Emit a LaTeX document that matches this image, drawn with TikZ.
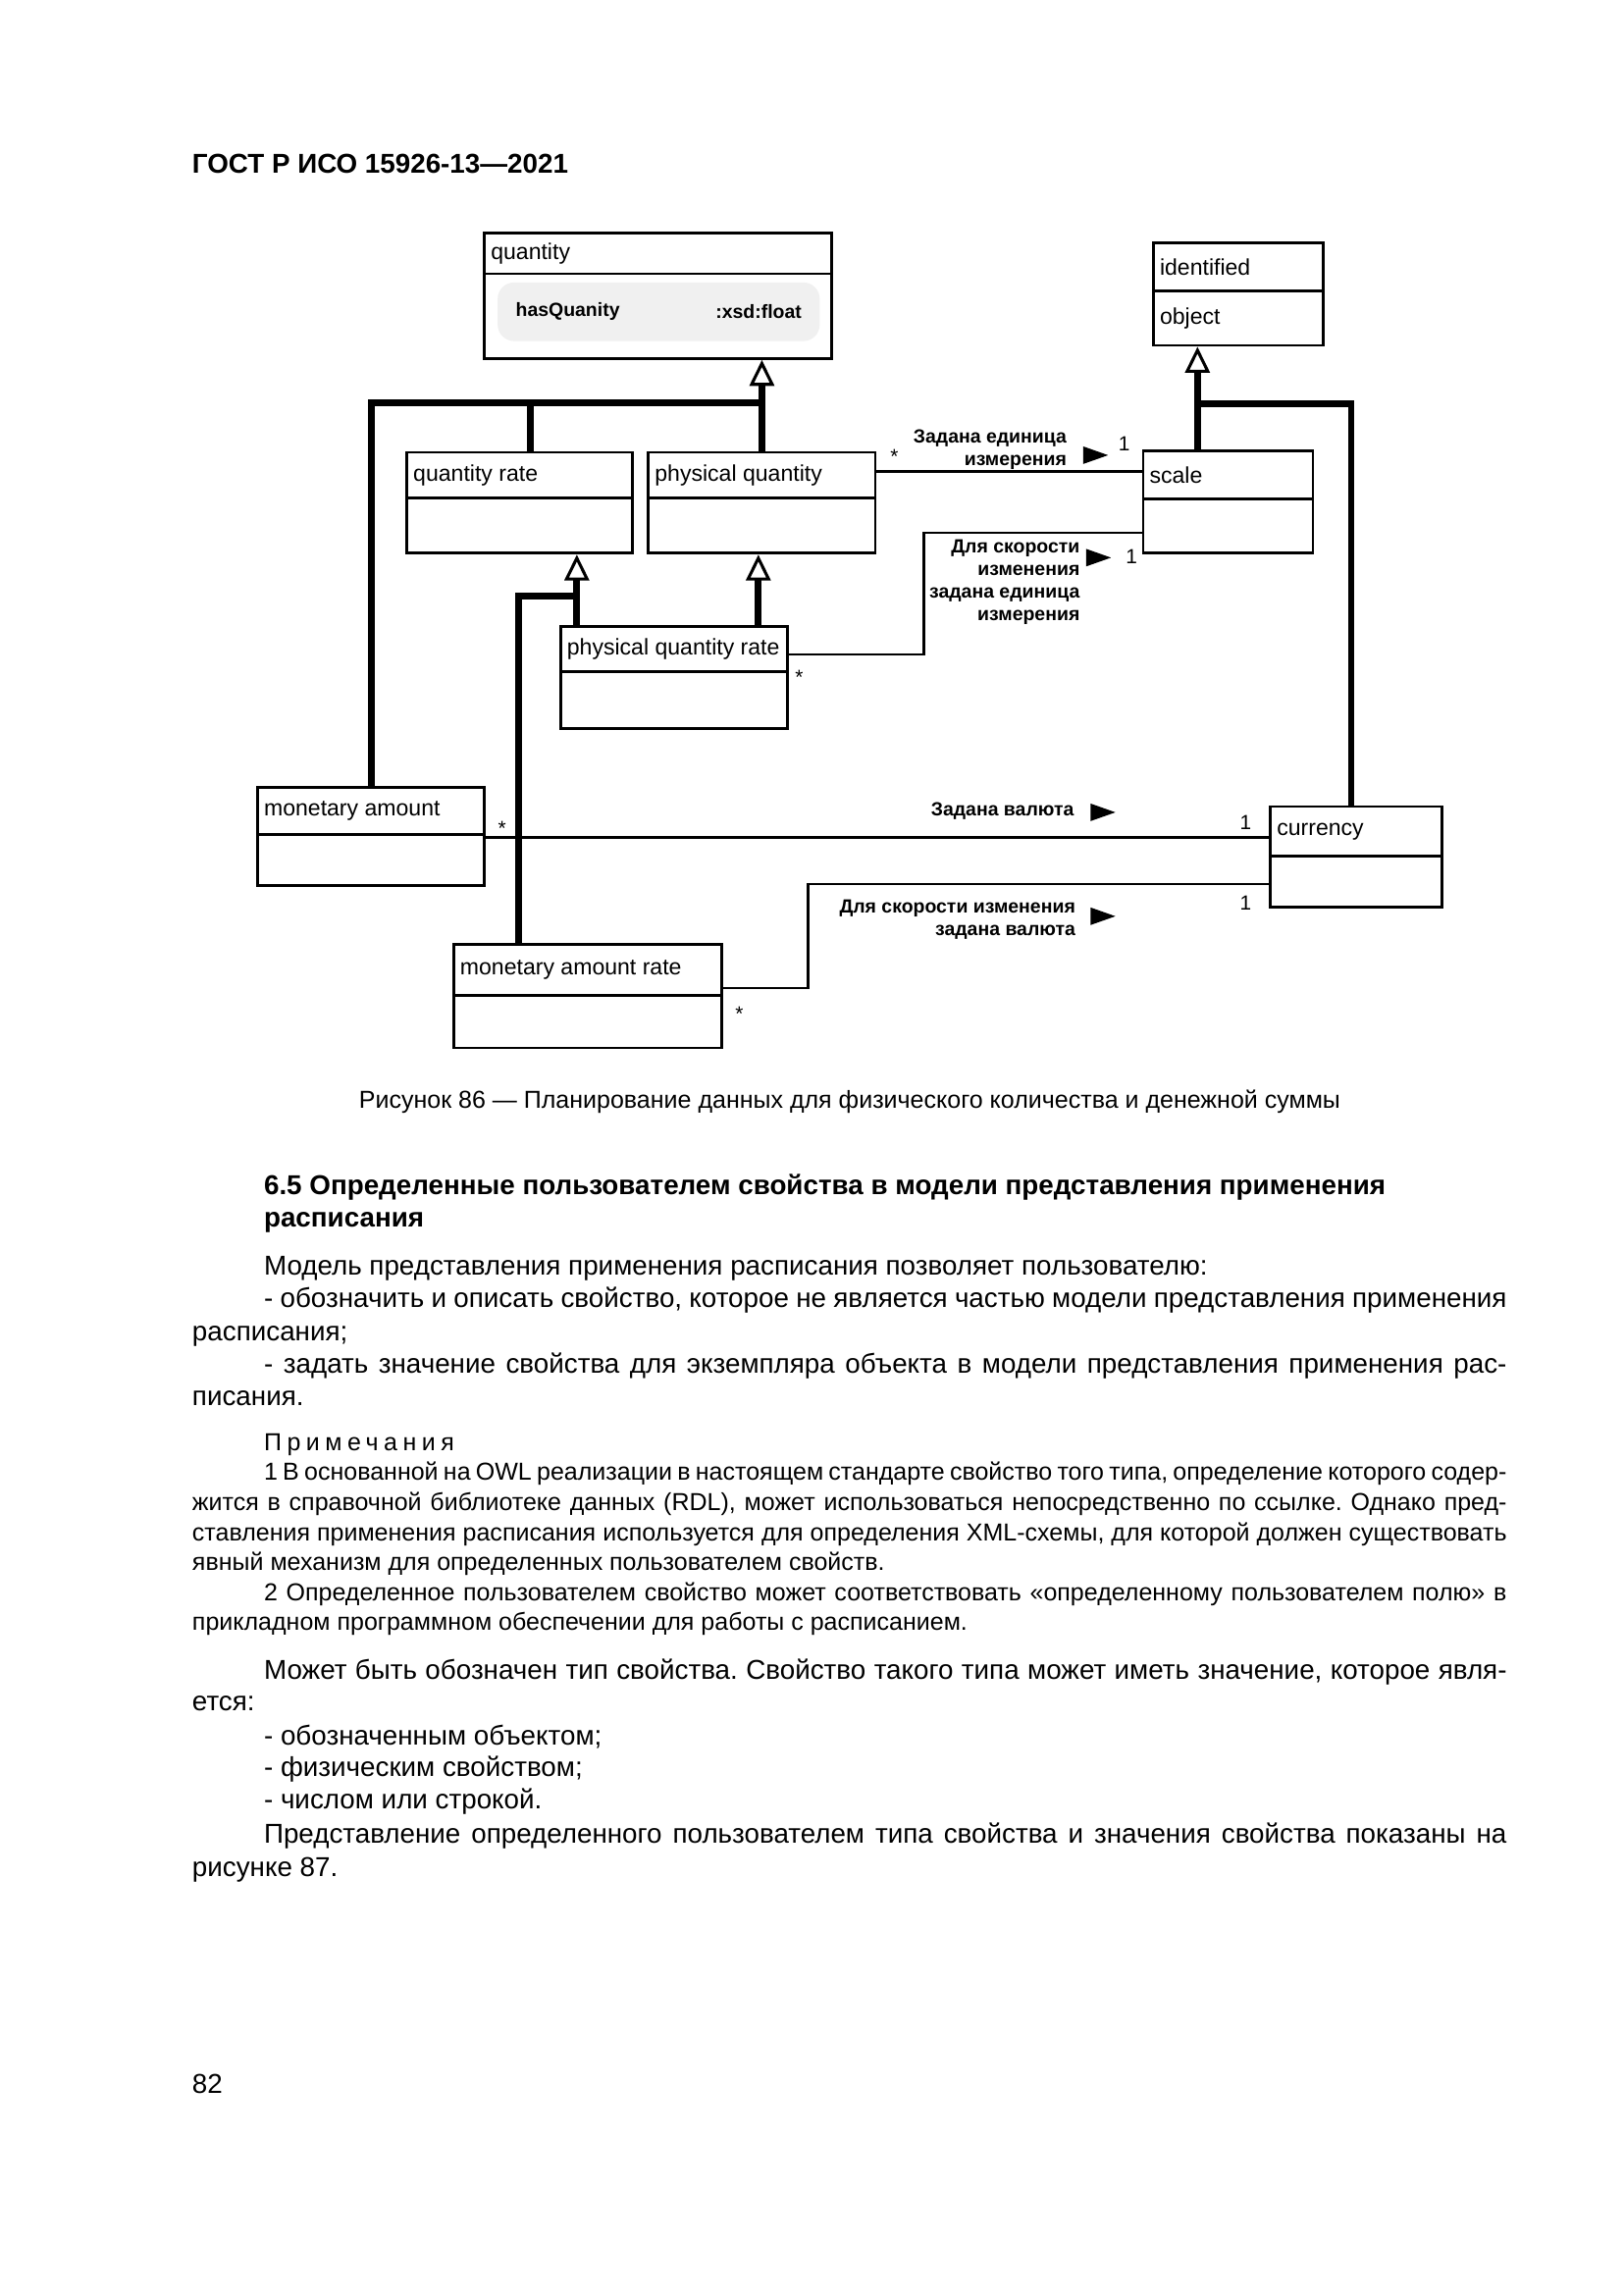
\documentclass[tikz,border=0pt]{standalone}
\usepackage{fontspec}
\setmainfont{Liberation Sans}
\usetikzlibrary{arrows.meta,fit,calc}
\newdimen\unitpx \unitpx=0.5368pt
\newcommand{\umlclass}[7]{%
  \node[umlframe, fit={(#2,#3) (#4,#5)}] (#1) {};
  \draw[divider] (#2,#6) -- (#4,#6);
  \node[classname, anchor=west] (#1-name) at ({#2+4},{(#3+#6)/2}) {#7};
}
\newcommand{\txt}[4]{\node[bodytext, anchor=base west] (#1) at (#2,#3) {#4};}
\newcommand{\jtxt}[5]{\node[bodytext, anchor=base west] (#1) at (#2,#3) {\makebox[#4\unitpx][s]{#5}};}
\newcommand{\ntxt}[4]{\node[notetext, anchor=base west] (#1) at (#2,#3) {#4};}
\newcommand{\njtxt}[5]{\node[notetext, anchor=base west] (#1) at (#2,#3) {\makebox[#4\unitpx][s]{#5}};}
\frenchspacing
\begin{document}
\begin{tikzpicture}[x=0.5368pt,y=-0.5368pt,
  umlframe/.style={draw, line width=1pt, inner sep=0pt, rectangle},
  divider/.style={line width=1pt},
  classname/.style={font=\fontsize{8.3}{10}\selectfont, inner sep=0pt},
  assoc/.style={line width=1pt},
  genline/.style={line width=2.5pt},
  gen/.style={line width=2.5pt, -{Triangle[fill=white, length=9.5pt, width=9pt, line width=1.1pt]}},
  rolelabel/.style={font=\bfseries\fontsize{7}{8.3}\selectfont, align=right, inner sep=0pt},
  mult/.style={font=\fontsize{7.5}{8}\selectfont, inner sep=0pt},
  attr/.style={font=\bfseries\fontsize{7}{8}\selectfont, inner sep=0pt},
  dirtri/.style={fill=black},
  bodytext/.style={font=\fontsize{10}{12}\selectfont, inner sep=0pt},
  notetext/.style={font=\fontsize{9}{11}\selectfont, inner sep=0pt}
]
\fill[white] (0,0) rectangle (1109,1568);
\useasboundingbox (0,0) rectangle (1109,1568);

% header
\node[font=\bfseries\fontsize{10}{12}\selectfont, anchor=base west, inner sep=0pt] (hdr) at (131,118) {ГОСТ Р ИСО 15926-13—2021};

% classes
\umlclass{quantity}{331}{159}{568}{245}{187}{quantity}
\node[fill=black!6, rounded corners=6pt, inner sep=0pt, fit={(340,193) (560,233)}] (qattr) {};
\node[attr, anchor=west] (qattr-n) at (352,213) {hasQuanity};
\node[attr, anchor=east] (qattr-t) at (548,213) {:xsd:float};

\umlclass{idobj}{788}{166}{904}{236}{199}{identified}
\node[classname, anchor=west] (idobj-obj) at (792,217.5) {object};

\umlclass{qr}{278}{309}{432}{378}{340}{quantity rate}
\umlclass{pq}{443}{309}{598}{378}{340}{physical quantity}
\umlclass{scale}{781}{308}{897}{378}{341}{scale}
\umlclass{pqr}{383}{428}{538}{498}{459}{physical quantity rate}
\umlclass{ma}{176}{538}{331}{605}{570}{monetary amount}
\umlclass{currency}{868}{551}{985}{620}{585}{currency}
\umlclass{mar}{310}{645}{493}{716}{680}{monetary amount rate}

% generalizations
\coordinate (qjoin) at (520.5,275);
\draw[gen] (pq.north) -- (pq.north |- quantity.south);
\draw[genline] ($(qr.north west)+(85,0)$) -- ($(qr.north west)+(85,-34)$);
\draw[genline] (ma.north) |- (qjoin);

\coordinate (pqrjoin) at (395,407);
\draw[gen] ($(pqr.north west)+(12,0)$) -- ($(qr.south west)+(117,0)$);
\draw[gen] ($(pqr.north west)+(136,0)$) -- ($(pq.south west)+(76,0)$);
\draw[genline] ($(mar.north west)+(45,0)$) |- (pqrjoin);

\coordinate (sjoin) at (819,276);
\draw[gen] ($(scale.north west)+(38,0)$) -- ($(idobj.south west)+(31,0)$);
\draw[genline] ($(currency.north west)+(56,0)$) |- (sjoin);

% associations
\draw[assoc] ($(pq.north east)+(0,14)$) -- ($(scale.north west)+(0,15)$);
\draw[assoc] ($(pqr.north east)+(0,20)$) -- ++(92,0) |- ($(scale.north west)+(0,57)$);
\draw[assoc] ($(ma.north east)+(0,35)$) -- ($(currency.north west)+(0,22)$);
\draw[assoc] ($(mar.north east)+(0,31)$) -- ++(58,0) |- ($(currency.north west)+(0,54)$);

% role labels
\node[rolelabel, anchor=east] (l1) at (729,307) {Задана единица\\измерения};
\node[rolelabel, anchor=east] (l2) at (738,397.5) {Для скорости\\изменения\\задана единица\\измерения};
\node[rolelabel, anchor=east] (l3) at (734,554) {Задана валюта};
\node[rolelabel, anchor=east] (l4) at (735,628.5) {Для скорости изменения\\задана валюта};

\fill[dirtri] (740,305) -- (757,311) -- (740,317) -- cycle;
\fill[dirtri] (742,375) -- (759,381) -- (742,387) -- cycle;
\fill[dirtri] (745,549) -- (762,555) -- (745,561) -- cycle;
\fill[dirtri] (745,620) -- (762,626) -- (745,632) -- cycle;

% multiplicities
\node[mult] (m1) at (611,312) {*};
\node[mult] (m2) at (768,303) {1};
\node[mult] (m3) at (773,380) {1};
\node[mult] (m4) at (546,463) {*};
\node[mult] (m5) at (343,566) {*};
\node[mult] (m6) at (851,562) {1};
\node[mult] (m7) at (851,617) {1};
\node[mult] (m8) at (505,693) {*};

% caption
\node[font=\fontsize{9}{11}\selectfont, anchor=base, inner sep=0pt] (cap) at (580.5,757) {Рисунок 86 — Планирование данных для физического количества и денежной суммы};

% section heading
\node[font=\bfseries\fontsize{10}{12}\selectfont, anchor=base west, inner sep=0pt] (h1) at (180,816) {6.5 Определенные пользователем свойства в модели представления применения};
\node[font=\bfseries\fontsize{10}{12}\selectfont, anchor=base west, inner sep=0pt] (h2) at (180,838) {расписания};

% body
\txt{b1}{180}{871}{Модель представления применения расписания позволяет пользователю:}
\jtxt{b2}{180}{893}{849}{- обозначить и описать свойство, которое не является частью модели представления применения}
\txt{b3}{131}{916}{расписания;}
\jtxt{b4}{180}{938}{849}{- задать значение свойства для экземпляра объекта в модели представления применения рас-}
\txt{b5}{131}{960}{писания.}

\ntxt{n0}{180}{991}{{\addfontfeature{LetterSpace=22}Примечания}}
\njtxt{n1}{180}{1011}{849}{1 В основанной на OWL реализации в настоящем стандарте свойство того типа, определение которого содер-}
\njtxt{n2}{131}{1032}{898}{жится в справочной библиотеке данных (RDL), может использоваться непосредственно по ссылке. Однако пред-}
\njtxt{n3}{131}{1053}{898}{ставления применения расписания используется для определения XML-схемы, для которой должен существовать}
\ntxt{n4}{131}{1073}{явный механизм для определенных пользователем свойств.}
\njtxt{n5}{180}{1094}{849}{2 Определенное пользователем свойство может соответствовать «определенному пользователем полю» в}
\ntxt{n6}{131}{1114}{прикладном программном обеспечении для работы с расписанием.}

\jtxt{b6}{180}{1147}{849}{Может быть обозначен тип свойства. Свойство такого типа может иметь значение, которое явля-}
\txt{b7}{131}{1169}{ется:}
\txt{b8}{180}{1192}{- обозначенным объектом;}
\txt{b9}{180}{1214}{- физическим свойством;}
\txt{b10}{180}{1236}{- числом или строкой.}
\jtxt{b11}{180}{1259}{849}{Представление определенного пользователем типа свойства и значения свойства показаны на}
\txt{b12}{131}{1282}{рисунке 87.}

\node[font=\fontsize{10}{12}\selectfont, anchor=base west, inner sep=0pt] (pg) at (131,1430) {82};
\end{tikzpicture}
\end{document}
